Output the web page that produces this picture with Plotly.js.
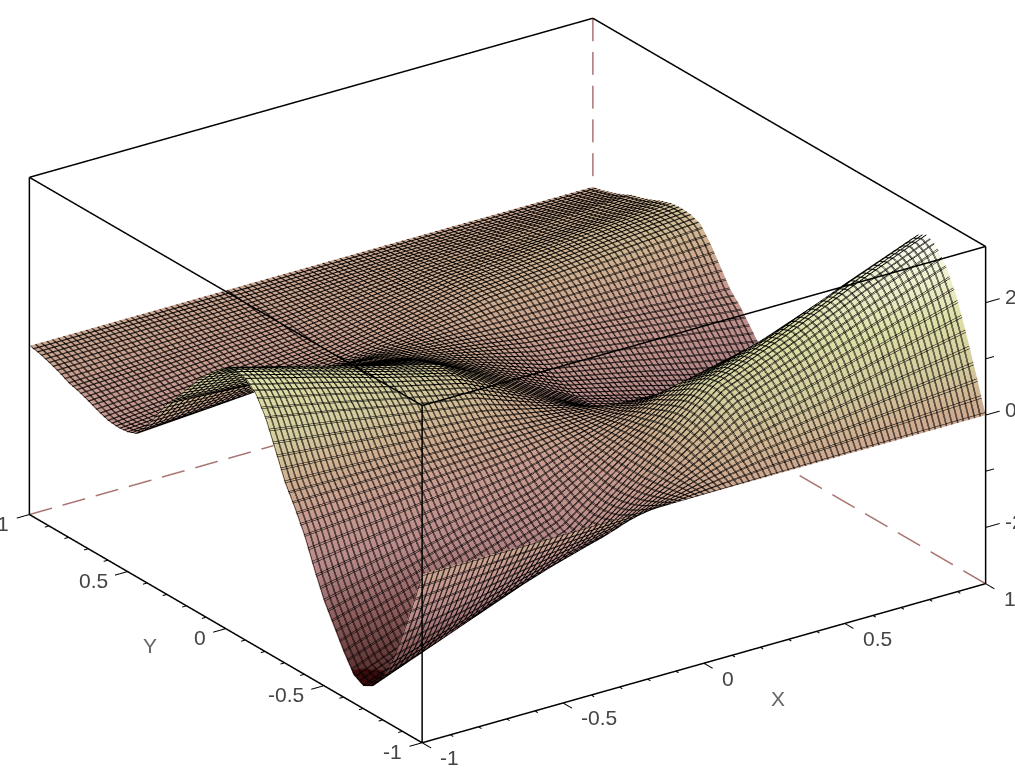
<!DOCTYPE html>
<html><head><meta charset="utf-8">
<script src="https://cdn.plot.ly/plotly-3.0.1.min.js"></script>
<style>html,body{margin:0;padding:0;background:#fff;overflow:hidden}#c{width:1015px;height:780px}</style>
</head><body><div id="c"></div>
<script>
const xVals=[-1,-0.75,-0.5,-0.25,0,0.25,0.5,0.75,1];
const yVals=[-1,-0.95,-0.9,-0.85,-0.8,-0.75,-0.7,-0.65,-0.6,-0.55,-0.5,-0.45,-0.4,-0.35,-0.3,-0.25,-0.2,-0.15,-0.1,-0.05,0,0.05,0.1,0.15,0.2,0.25,0.3,0.35,0.4,0.45,0.5,0.55,0.6,0.65,0.7,0.75,0.8,0.85,0.9,0.95,1];
const zRows=[
[0,0,0,0,0,0,0,0,0],
[-6.5,-5.2,-3.8,-2.5,0,2.5,3.8,5.2,6.5],
[-12.7,-10.2,-7.4,-4.9,0,4.9,7.4,10.2,12.7],
[-18.3,-14.6,-10.6,-7,0,7,10.6,14.6,18.3],
[-22.3,-17.8,-12.9,-8.6,0,8.6,12.9,17.8,22.3],
[-25,-20,-14.5,-9.6,0,9.6,14.5,20,25],
[-26,-20.8,-15.1,-10,0,10,15.1,20.8,26],
[-25,-20,-14.5,-9.6,0,9.6,14.5,20,25],
[-22,-17.6,-12.8,-8.5,0,8.5,12.8,17.6,22],
[-18.5,-14.8,-10.7,-7.1,0,7.1,10.7,14.8,18.5],
[-15,-12,-8.7,-5.8,0,5.8,8.7,12,15],
[-10.5,-8.4,-6.1,-4,0,4,6.1,8.4,10.5],
[-5.5,-4.4,-3.2,-2.1,0,2.1,3.2,4.4,5.5],
[-1.5,-1.2,-0.9,-0.6,0,0.6,0.9,1.2,1.5],
[2,1.6,1.2,0.8,0,-0.8,-1.2,-1.6,-2],
[6.8,5.4,3.9,2.6,0,-2.6,-3.9,-5.4,-6.8],
[11.5,9.2,6.7,4.4,0,-4.4,-6.7,-9.2,-11.5],
[14.8,11.8,8.6,5.7,0,-5.7,-8.6,-11.8,-14.8],
[16.5,13.2,9.6,6.4,0,-6.4,-9.6,-13.2,-16.5],
[17,13.6,9.9,6.5,0,-6.5,-9.9,-13.6,-17],
[16.5,13.2,9.6,6.4,0,-6.4,-9.6,-13.2,-16.5],
[15,12,8.7,5.8,0,-5.8,-8.7,-12,-15],
[13.2,10.6,7.7,5.1,0,-5.1,-7.7,-10.6,-13.2],
[11,8.8,6.4,4.2,0,-4.2,-6.4,-8.8,-11],
[8.5,6.8,4.9,3.3,0,-3.3,-4.9,-6.8,-8.5],
[6,4.8,3.5,2.3,0,-2.3,-3.5,-4.8,-6],
[4,3.2,2.3,1.5,0,-1.5,-2.3,-3.2,-4],
[1,0.8,0.6,0.4,0,-0.4,-0.6,-0.8,-1],
[-2,-1.6,-1.2,-0.8,0,0.8,1.2,1.6,2],
[-4.5,-3.6,-2.6,-1.7,0,1.7,2.6,3.6,4.5],
[-5.2,-4.2,-3,-2,0,2,3,4.2,5.2],
[-5.4,-4.3,-3.1,-2.1,0,2.1,3.1,4.3,5.4],
[-5.2,-4.2,-3,-2,0,2,3,4.2,5.2],
[-4.6,-3.7,-2.7,-1.8,0,1.8,2.7,3.7,4.6],
[-3.8,-3,-2.2,-1.5,0,1.5,2.2,3,3.8],
[-3.1,-2.5,-1.8,-1.2,0,1.2,1.8,2.5,3.1],
[-2.6,-2.1,-1.5,-1,0,1,1.5,2.1,2.6],
[-1.7,-1.4,-1,-0.7,0,0.7,1,1.4,1.7],
[-1,-0.8,-0.6,-0.4,0,0.4,0.6,0.8,1],
[-0.4,-0.3,-0.2,-0.2,0,0.2,0.2,0.3,0.4],
[0,0,0,0,0,0,0,0,0]
];
const xTickVals=[-1,-0.5,0,0.5,1], xTickText=['-1','-0.5','0','0.5','1'];
const yTickVals=[-1,-0.5,0,0.5,1], yTickText=['-1','-0.5','0','0.5','1'];
const zTickVals=[-20,0,20], zTickText=['-20','0','20'];
const xMinor=[-0.9,-0.8,-0.7,-0.6,-0.4,-0.3,-0.2,-0.1,0.1,0.2,0.3,0.4,0.6,0.7,0.8,0.9];
const yMinor=xMinor;
const zMinor=[-10,10];
const meshStarts=[-1,-0.98,-0.997,-0.977];
const zMin=-30, zMax=30;
const colorStops=[[-30,'#2a0505'],[-24.6,'#3c0c0c'],[-24.4,'#5e3434'],[-18,'#8a5a5a'],[-10,'#b88a8a'],[-3,'#c89c90'],[2,'#cfae90'],[8,'#d4cc9e'],[15,'#dede a6'.replace(' ','')],[22,'#f2f2d4'],[27,'#ffffff'],[30,'#ffffff']];

function seg(arr,a,b){arr.x.push(a[0],b[0],null);arr.y.push(a[1],b[1],null);arr.z.push(a[2],b[2],null);}
function dashed(arr,a,b,periods){for(let i=0;i<periods;i++){const p=t=>a.map((v,k)=>v+(b[k]-v)*t);seg(arr,p(i/periods),p((i+0.68)/periods));}}
const box={x:[],y:[],z:[]}, back={x:[],y:[],z:[]}, ticks={x:[],y:[],z:[]};
seg(box,[-1,-1,zMax],[1,-1,zMax]);seg(box,[1,-1,zMax],[1,1,zMax]);seg(box,[1,1,zMax],[-1,1,zMax]);seg(box,[-1,1,zMax],[-1,-1,zMax]);
seg(box,[-1,-1,zMin],[-1,-1,zMax]);seg(box,[1,-1,zMin],[1,-1,zMax]);seg(box,[-1,1,zMin],[-1,1,zMax]);
seg(box,[-1,-1,zMin],[1,-1,zMin]);seg(box,[-1,-1,zMin],[-1,1,zMin]);
dashed(back,[1,1,zMax],[1,1,zMin],10);dashed(back,[-1,1,zMin],[1,1,zMin],17);dashed(back,[1,-1,zMin],[1,1,zMin],12);
xTickVals.forEach(v=>seg(ticks,[v,-1,zMin],[v,-1.045,zMin]));
xMinor.forEach(v=>seg(ticks,[v,-1,zMin],[v,-1.015,zMin]));
yTickVals.forEach(v=>seg(ticks,[-1,v,zMin],[-1.045,v,zMin]));
yMinor.forEach(v=>seg(ticks,[-1,v,zMin],[-1.015,v,zMin]));
zTickVals.forEach(v=>seg(ticks,[1,-1,v],[1.05,-1,v]));
zMinor.forEach(v=>seg(ticks,[1,-1,v],[1.03,-1,v]));

const font={family:'Liberation Sans, Arial, sans-serif',size:21,color:'#444'};
const ann=[];
xTickVals.forEach((v,i)=>ann.push({x:v,y:-1,z:zMin,text:xTickText[i],showarrow:false,xanchor:'left',yanchor:'middle',xshift:16,yshift:-15,font}));
yTickVals.forEach((v,i)=>ann.push({x:-1,y:v,z:zMin,text:yTickText[i],showarrow:false,xanchor:'right',yanchor:'middle',xshift:-18,yshift:-9,font}));
zTickVals.forEach((v,i)=>ann.push({x:1,y:-1,z:v,text:zTickText[i],showarrow:false,xanchor:'left',yanchor:'middle',xshift:17,yshift:6,font}));
ann.push({x:0.25,y:-1,z:zMin,text:'X',showarrow:false,xshift:4,yshift:-55,font:{...font,color:'#666'}});
ann.push({x:-1,y:0,z:zMin,text:'Y',showarrow:false,xshift:-76,yshift:-17,font:{...font,color:'#666'}});

const hidden={showgrid:false,zeroline:false,showline:false,showticklabels:false,ticks:'',showbackground:false,showspikes:false,title:{text:''}};
const scale=colorStops.map(s=>[(s[0]-zMin)/(zMax-zMin),s[1]]);
const meshLine={show:true,size:0.04,color:'#000',width:2,highlight:false};
const data=meshStarts.map((s,i)=>({type:'surface',x:xVals,y:yVals,z:zRows,showscale:false,cmin:zMin,cmax:zMax,colorscale:scale,hidesurface:i>0,
 lighting:{ambient:1,diffuse:0,specular:0,roughness:1,fresnel:0},hoverinfo:'skip',
 contours:{x:{...meshLine,start:s,end:1.01},y:{...meshLine,start:s,end:1.01},z:{show:false,highlight:false}}}));
data.push(
{type:'scatter3d',mode:'lines',...box,line:{color:'#000',width:3},hoverinfo:'skip',showlegend:false},
{type:'scatter3d',mode:'lines',...back,line:{color:'#a87472',width:3},hoverinfo:'skip',showlegend:false},
{type:'scatter3d',mode:'lines',...ticks,line:{color:'#000',width:2},hoverinfo:'skip',showlegend:false});
const layout={width:1015,height:780,margin:{l:0,r:0,t:0,b:19},paper_bgcolor:'#fff',showlegend:false,
 scene:{domain:{x:[0,1],y:[0,1]},aspectmode:'manual',aspectratio:{x:1.9855,y:1.9855,z:1.0662},
  camera:{projection:{type:'orthographic'},eye:{x:-1.394,y:-2.0,z:1.08},center:{x:0,y:0,z:0},up:{x:0,y:0,z:1}},
  xaxis:{...hidden,range:[-1.1,1.1]},yaxis:{...hidden,range:[-1.1,1.1]},zaxis:{...hidden,range:[-33,33]},
  annotations:ann}};
Plotly.newPlot('c',data,layout,{displayModeBar:false,staticPlot:false});
</script></body></html>
